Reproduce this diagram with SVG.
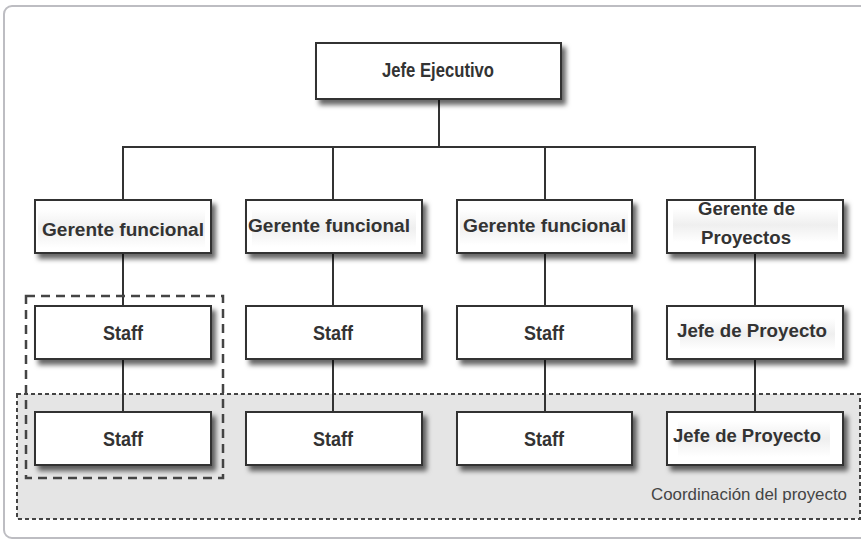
<svg xmlns="http://www.w3.org/2000/svg" width="861" height="541" viewBox="0 0 861 541">
  <defs>
    <filter id="shadow" x="-10%" y="-20%" width="130%" height="160%">
      <feDropShadow dx="4" dy="5" stdDeviation="2.5" flood-color="#000" flood-opacity="0.6"/>
    </filter>
    <linearGradient id="hl" x1="0" y1="0" x2="0" y2="1">
      <stop offset="0" stop-color="#ffffff"/>
      <stop offset="0.5" stop-color="#efefef"/>
      <stop offset="1" stop-color="#ffffff"/>
    </linearGradient>
    <style>
      .box { fill: #ffffff; stroke: #333333; stroke-width: 2; filter: url(#shadow); }
      .hl { fill: url(#hl); }
      .lbl { font-family: "Liberation Sans", Arial, sans-serif; font-weight: bold; fill: #333333; }
      .cond { font-size: 20px; }
      .wide { font-size: 18px; }
      .conn { stroke: #333333; stroke-width: 2; fill: none; }
    </style>
  </defs>

  <!-- page frame -->
  <rect x="4" y="6" width="880" height="532" rx="8" fill="#ffffff" stroke="#bdbdc2" stroke-width="2"/>

  <!-- project coordination band -->
  <g id="coordinacion">
    <rect x="17" y="394" width="843" height="125" fill="#e5e5e5" stroke="#444444" stroke-width="2" stroke-dasharray="4 3"/>
    <text x="847" y="500" text-anchor="end" font-family="'Liberation Sans', Arial, sans-serif" font-size="16" fill="#444444" textLength="196" lengthAdjust="spacingAndGlyphs">Coordinación del proyecto</text>
  </g>

  <!-- connectors -->
  <g id="connectors" class="conn">
    <line x1="439" y1="99" x2="439" y2="147"/>
    <line x1="122" y1="147" x2="756" y2="147"/>
    <line x1="123" y1="147" x2="123" y2="412"/>
    <line x1="333" y1="147" x2="333" y2="412"/>
    <line x1="545" y1="147" x2="545" y2="412"/>
    <line x1="755" y1="147" x2="755" y2="412"/>
  </g>

  <!-- functional group outline -->
  <rect id="grupo-funcional" x="26" y="296" width="197" height="182" fill="none" stroke="#444444" stroke-width="2.5" stroke-dasharray="9 6"/>

  <g id="jefe-ejecutivo">
    <rect class="box" x="316" y="43" width="245" height="56"/>
    <text class="lbl cond" x="382" y="77" textLength="112" lengthAdjust="spacingAndGlyphs">Jefe Ejecutivo</text>
  </g>

  <g id="gerente-funcional-1">
    <rect class="box" x="35" y="200" width="176" height="53"/>
    <rect class="hl" x="38" y="209" width="167" height="39"/>
    <text class="lbl wide" x="42" y="236" textLength="162" lengthAdjust="spacingAndGlyphs">Gerente funcional</text>
  </g>
  <g id="gerente-funcional-2">
    <rect class="box" x="246" y="200" width="176" height="53"/>
    <rect class="hl" x="252" y="209" width="164" height="38"/>
    <text class="lbl wide" x="248" y="232" textLength="162" lengthAdjust="spacingAndGlyphs">Gerente funcional</text>
  </g>
  <g id="gerente-funcional-3">
    <rect class="box" x="457" y="200" width="175" height="53"/>
    <rect class="hl" x="460" y="209" width="168" height="36"/>
    <text class="lbl wide" x="463" y="232" textLength="163" lengthAdjust="spacingAndGlyphs">Gerente funcional</text>
  </g>
  <g id="gerente-proyectos">
    <rect class="box" x="667" y="200" width="176" height="53"/>
    <rect class="hl" x="673" y="208" width="165" height="34"/>
    <text class="lbl wide" x="698" y="215" textLength="97" lengthAdjust="spacingAndGlyphs">Gerente de</text>
    <text class="lbl wide" x="701" y="244" textLength="90" lengthAdjust="spacingAndGlyphs">Proyectos</text>
  </g>

  <g id="staff-1a">
    <rect class="box" x="35" y="306" width="176" height="53"/>
    <text class="lbl cond" x="103" y="340" textLength="40" lengthAdjust="spacingAndGlyphs">Staff</text>
  </g>
  <g id="staff-2a">
    <rect class="box" x="246" y="306" width="176" height="53"/>
    <text class="lbl cond" x="313" y="340" textLength="40" lengthAdjust="spacingAndGlyphs">Staff</text>
  </g>
  <g id="staff-3a">
    <rect class="box" x="457" y="306" width="175" height="53"/>
    <text class="lbl cond" x="524" y="340" textLength="40" lengthAdjust="spacingAndGlyphs">Staff</text>
  </g>
  <g id="jefe-proyecto-1">
    <rect class="box" x="667" y="306" width="176" height="53"/>
    <rect class="hl" x="680" y="318" width="155" height="32"/>
    <text class="lbl wide" x="677" y="337" textLength="150" lengthAdjust="spacingAndGlyphs">Jefe de Proyecto</text>
  </g>

  <g id="staff-1b">
    <rect class="box" x="35" y="412" width="176" height="53"/>
    <text class="lbl cond" x="103" y="446" textLength="40" lengthAdjust="spacingAndGlyphs">Staff</text>
  </g>
  <g id="staff-2b">
    <rect class="box" x="246" y="412" width="176" height="53"/>
    <text class="lbl cond" x="313" y="446" textLength="40" lengthAdjust="spacingAndGlyphs">Staff</text>
  </g>
  <g id="staff-3b">
    <rect class="box" x="457" y="412" width="175" height="53"/>
    <text class="lbl cond" x="524" y="446" textLength="40" lengthAdjust="spacingAndGlyphs">Staff</text>
  </g>
  <g id="jefe-proyecto-2">
    <rect class="box" x="667" y="412" width="176" height="53"/>
    <rect class="hl" x="678" y="421" width="152" height="36"/>
    <text class="lbl wide" x="673" y="442" textLength="148" lengthAdjust="spacingAndGlyphs">Jefe de Proyecto</text>
  </g>
</svg>
